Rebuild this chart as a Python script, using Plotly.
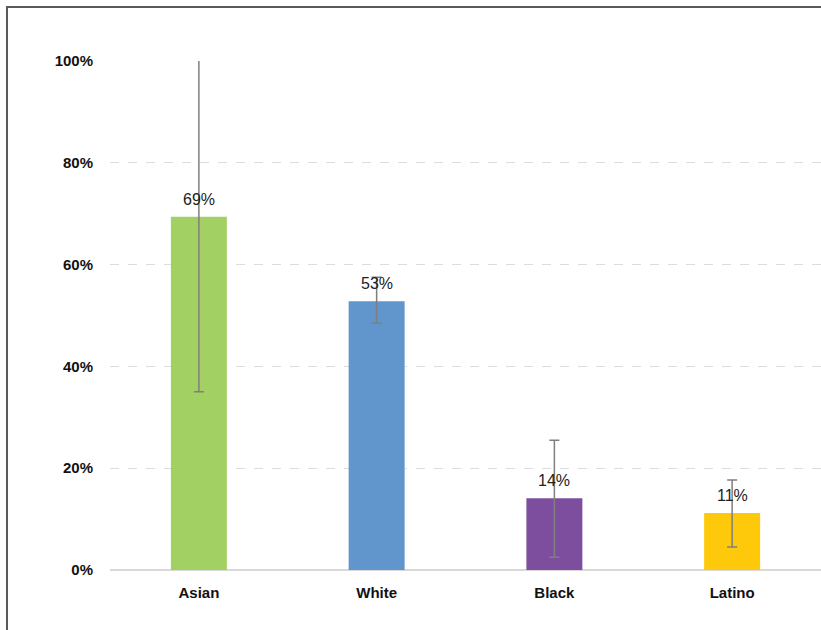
import plotly.graph_objects as go

categories = ["Asian", "White", "Black", "Latino"]
values = [0.694, 0.528, 0.141, 0.112]
ci_low = [0.35, 0.485, 0.025, 0.045]
ci_high = [1.03, 0.575, 0.255, 0.177]
colors = ["#A3D063", "#6096CC", "#7E4E9E", "#FDC90A"]
labels = ["69%", "53%", "14%", "11%"]
y_ticks = [0, 0.2, 0.4, 0.6, 0.8, 1.0]
y_tick_text = ["0%", "20%", "40%", "60%", "80%", "100%"]

err_plus = [h - v for h, v in zip(ci_high, values)]
err_minus = [v - l for v, l in zip(values, ci_low)]

fig = go.Figure()
fig.add_trace(go.Bar(
    x=categories, y=values,
    marker=dict(color=colors, line=dict(width=0)),
    width=0.315,
    cliponaxis=True,
    error_y=dict(type="data", symmetric=False, array=err_plus, arrayminus=err_minus,
                 color="#7f7f7f", thickness=1.5, width=5),
    hoverinfo="skip",
))

for c, v, t in zip(categories, values, labels):
    fig.add_annotation(x=c, y=v, text=t, showarrow=False, yanchor="bottom", yshift=7,
                       font=dict(family="Liberation Sans, Arial, sans-serif", size=16, color="#222222"))

fig.update_layout(
    width=821, height=630,
    margin=dict(l=110, r=0, t=61, b=60),
    paper_bgcolor="white", plot_bgcolor="white",
    showlegend=False,
    xaxis=dict(
        tickfont=dict(family="Liberation Sans, Arial, sans-serif",
                      size=15, color="#111111", weight="bold"),
        ticks="", showgrid=False, showline=False, ticklabelstandoff=12,
    ),
    yaxis=dict(
        range=[0, 1.0], tickvals=y_ticks, ticktext=y_tick_text,
        tickfont=dict(family="Liberation Sans, Arial, sans-serif",
                      size=15, color="#111111", weight="bold"),
        showgrid=True, gridcolor="#dcdcdc", griddash="dash", gridwidth=1,
        zeroline=True, zerolinecolor="#d9d9d9", zerolinewidth=2,
        ticks="", showline=False, ticklabelstandoff=16,
    ),
    shapes=[dict(type="rect", xref="paper", yref="paper",
                 x0=(7 - 110) / 711, x1=1.1, y0=-0.2, y1=(570 - 7) / 509,
                 line=dict(color="#5a5a5a", width=2), fillcolor="rgba(0,0,0,0)", layer="above")],
)

fig.write_html("out.html", config={"displayModeBar": False},
               post_script="document.body.style.margin='0';")
